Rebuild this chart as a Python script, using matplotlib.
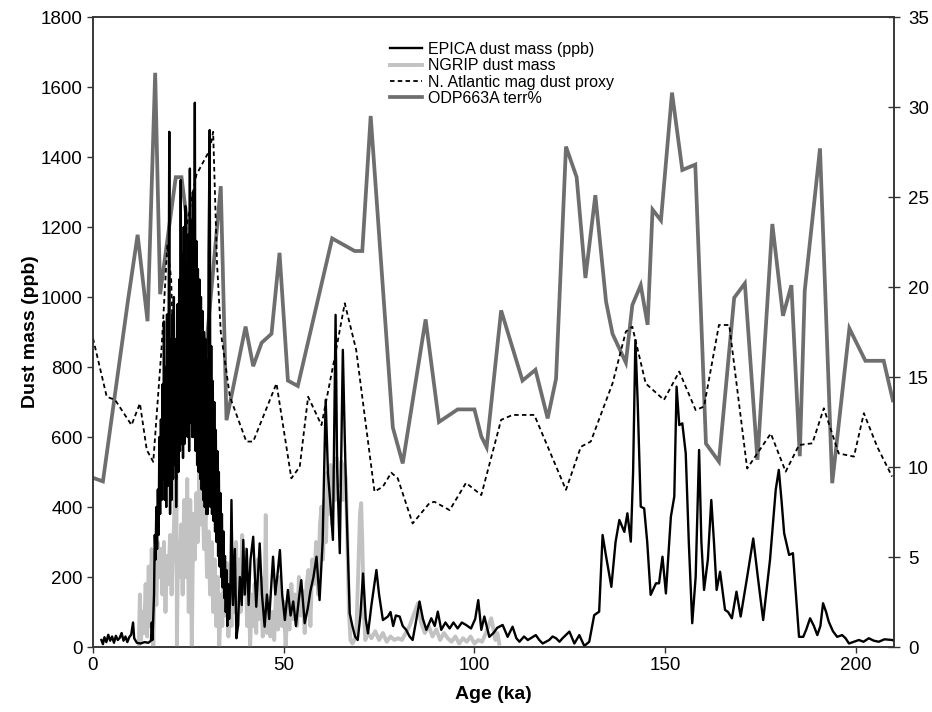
import matplotlib.pyplot as plt

plt.rcParams['font.family'] = ['Liberation Sans', 'DejaVu Sans']

# EPICA dust mass (ppb)
epica_age = [2.2, 2.6, 3.0, 3.5, 4.0, 4.5, 5.0, 5.5, 6.0, 6.5, 7.0, 7.5, 8.0, 8.5, 9.0, 9.5, 10.0, 10.5,
             10.8, 11.5, 12.5, 13.5, 14.5, 15.2, 15.4, 15.6,
             16.0, 16.2, 16.4, 16.6, 16.8, 17.0, 17.2, 17.4, 17.6, 17.8, 18.0, 18.2, 18.4, 18.6, 18.8,
             19.0, 19.2, 19.4, 19.6, 19.8, 20.0, 20.2, 20.4, 20.6, 20.8, 21.0, 21.2, 21.4, 21.6, 21.8,
             22.0, 22.2, 22.4, 22.6, 22.8, 23.0, 23.2, 23.4, 23.6, 23.8, 24.0, 24.2, 24.4, 24.6, 24.8,
             25.0, 25.2, 25.4, 25.6, 25.8, 26.0, 26.2, 26.4, 26.7, 26.9, 27.1, 27.3, 27.5, 27.7, 27.9,
             28.1, 28.3, 28.5, 28.7, 28.9, 29.1, 29.3, 29.5, 29.7, 29.9, 30.1, 30.3, 30.6, 30.8, 31.0,
             31.2, 31.4, 31.6, 31.8, 32.0, 32.2, 32.4, 32.6, 32.8, 33.0, 33.2, 33.4, 33.6, 33.8, 34.0,
             34.2, 34.4, 34.6, 34.8, 35.0, 35.2, 35.4, 35.7, 36.0, 36.3,
             36.7, 37.2, 37.6, 38.0, 38.5, 39.0, 39.4, 39.8, 40.3, 40.8, 41.3, 42.0, 42.8, 43.7, 44.3,
             45.0, 45.6, 46.2, 47.2, 47.8, 48.3, 49.0, 49.6, 50.3, 51.1, 51.8, 52.5, 53.2, 54.0, 54.6,
             55.5, 56.3, 57.0, 57.8, 58.6, 59.4, 60.2, 61.0, 61.6, 62.3, 62.9, 63.6, 64.0, 64.7, 65.5,
             66.0, 66.4, 67.3, 68.0, 68.7, 69.4, 70.1, 70.8, 71.5, 72.1, 73.0, 74.3, 75.0, 76.0, 77.3,
             78.0, 78.7, 79.4, 80.4, 81.2, 82.1, 83.0, 83.8, 84.8, 85.6, 86.5, 87.4, 88.7, 89.6, 90.4,
             91.3, 92.4, 93.5, 94.5, 95.6, 96.7, 97.8, 99.1, 100.2, 101.0, 101.8, 102.6, 103.9, 105.0,
             106.0, 107.4, 108.7, 110.0, 111.0, 111.8, 113.0, 114.0, 116.1, 117.0, 117.9, 119.6, 120.5,
             121.4, 122.3, 123.1, 124.9, 126.2, 127.5, 128.8, 130.1, 131.4, 132.7, 133.6, 134.5, 135.9,
             137.0, 138.0, 139.3, 140.1, 141.0, 141.6, 142.2, 142.8, 143.6, 144.5, 145.3, 146.2, 147.6,
             148.4, 149.3, 150.2, 151.5, 152.4, 153.0, 153.7, 154.5, 155.4, 156.2, 157.1, 158.0, 158.9,
             159.5, 160.2, 161.2, 162.1, 162.8, 163.5, 164.4, 165.7, 166.5, 167.5, 168.7, 169.8, 171.5,
             173.1, 174.3, 175.7, 177.5, 179.0, 179.8, 180.5, 181.2, 182.5, 183.5, 184.3, 185.1, 186.2,
             187.0, 188.0, 189.0, 189.9, 190.7, 191.4, 192.2, 192.9, 194.0, 195.1, 196.4, 197.3, 198.2,
             199.5, 200.8, 202.0, 203.4, 204.7, 206.0, 207.5, 209.5, 210.0]
epica_ppb = [20, 8, 28, 14, 35, 18, 30, 12, 32, 20, 26, 40, 18, 30, 14, 28, 35, 70,
             25, 12, 10, 14, 12, 18, 70, 20,
             150, 320, 250, 400, 280, 450, 320, 600, 380, 650, 420, 750, 480, 930, 420,
             800, 400, 950, 460, 820, 1472, 380, 880, 420, 950, 480, 1000, 520, 880, 400,
             760, 980, 500, 1050, 560, 1334, 580, 1120, 540, 1200, 580, 1260, 620, 1100, 600,
             1180, 560, 1367, 640, 1220, 600, 1300, 600, 1555, 560, 1160, 520, 1080, 500, 1050,
             480, 1000, 450, 960, 420, 900, 400, 880, 380, 820, 380, 1125, 1477, 400, 860,
             380, 760, 360, 700, 330, 620, 300, 560, 260, 500, 230, 440, 200, 380, 170,
             330, 140, 260, 100, 220, 60, 180, 80, 150, 420,
             120, 280, 25, 60, 200, 120, 306, 150, 280, 120, 250, 315, 115, 296, 150,
             58, 150, 80, 258, 150, 200, 277, 150, 77, 163, 90, 130, 60, 140, 191,
             68, 110, 160, 200, 258, 134, 300, 706, 496, 400, 306, 949, 515, 268, 849,
             600, 420, 96, 60, 30, 20, 90, 210, 80, 39, 120, 220, 150, 77, 87,
             100, 60, 90, 87, 60, 49, 30, 20, 80, 130, 80, 49, 82, 60, 101,
             49, 70, 53, 70, 53, 70, 63, 53, 80, 134, 49, 87, 29, 40,
             55, 63, 29, 58, 25, 15, 30, 20, 34, 20, 10, 20, 30,
             25, 15, 25, 44, 10, 34, 3, 15, 91, 101, 320, 260, 172,
             300, 363, 329, 382, 301, 500, 877, 700, 401, 396, 300, 149, 182,
             182, 258, 153, 372, 430, 744, 634, 639, 553, 300, 68, 200, 563,
             300, 163, 250, 420, 300, 163, 215, 106, 100, 82, 158, 87, 200,
             310, 200, 77, 250, 450, 506, 420, 325, 263, 268, 150, 29, 29,
             50, 82, 60, 34, 60, 125, 100, 72, 45, 29, 34, 25, 10,
             15, 20, 15, 25, 18, 15, 22, 20, 18]

# NGRIP dust mass (ppb)
ngrip_age = [12.0, 12.3, 12.6, 13.0, 13.4, 13.8, 14.2, 14.6, 15.0, 15.4, 15.8, 16.2, 16.6, 17.0, 17.4,
             17.8, 18.2, 18.6, 19.0, 19.4, 19.8, 20.2, 20.6, 21.0, 21.4, 21.8, 22.0, 22.3, 22.7, 23.1,
             23.5, 23.9, 24.3, 24.7, 25.1, 25.5, 25.9, 26.3, 26.7, 27.1, 27.5, 27.9, 28.3, 28.7, 29.1,
             29.5, 29.9, 30.3, 30.7, 31.1, 31.5, 31.9, 32.3, 32.7, 33.1, 33.5, 33.9, 34.3, 34.7, 35.1,
             35.5, 35.9, 36.3, 36.7, 37.1, 37.5, 37.9, 38.3, 38.7, 39.1, 39.5, 40.0, 40.4, 40.8, 41.2,
             41.6, 42.0, 42.4, 42.8, 43.2, 43.6, 44.0, 44.5, 45.0, 45.3, 45.6, 46.0, 46.5, 47.0, 47.5,
             48.0, 48.5, 49.0, 49.5, 50.0, 50.5, 51.0, 51.5, 52.0, 52.5, 53.0, 53.5, 54.0, 54.5, 55.0,
             55.5, 56.0, 56.5, 57.0, 57.5, 58.0, 58.5, 59.0, 59.5, 59.9, 60.3, 60.7, 61.1, 61.5, 61.9,
             62.3, 62.7, 63.1, 63.5, 63.9, 64.3, 64.7, 65.1, 65.5, 65.9, 66.3, 66.7, 67.1, 67.5, 68.0,
             68.5, 69.0, 69.5, 70.0, 70.3, 70.6, 71.0, 71.4, 72.0, 73.0, 74.0, 75.0, 76.0, 77.0, 78.0,
             79.0, 80.0, 81.0, 82.0, 83.0, 84.0, 85.2, 86.0, 87.0, 88.0, 89.0, 90.0, 91.0, 92.0, 93.0,
             94.0, 95.0, 96.0, 97.0, 98.0, 99.0, 100.0, 101.0, 102.0, 103.0, 104.4, 105.0, 105.5, 106.0,
             106.5]
ngrip_ppb = [0, 150, 20, 100, 40, 180, 30, 230, 60, 280, 0, 250, 120, 300, 200,
             280, 150, 300, 100, 260, 180, 320, 150, 280, 400, 750, 0, 300, 200, 350,
             150, 420, 200, 480, 100, 420, 0, 380, 250, 440, 300, 500, 350, 450, 280,
             380, 200, 330, 150, 300, 100, 250, 60, 200, 0, 150, 60, 200, 90, 240,
             30, 180, 60, 280, 100, 300, 60, 250, 100, 320, 150, 280, 60, 200, 0,
             150, 60, 180, 40, 250, 80, 200, 30, 120, 377, 40, 140, 30, 100, 20,
             160, 50, 200, 60, 130, 0, 120, 50, 180, 80, 150, 60, 200, 90, 160,
             40, 180, 220, 60, 250, 180, 300, 150, 350, 401, 250, 420, 300, 500, 380,
             520, 350, 480, 420, 540, 460, 480, 530, 420, 520, 480, 300, 100, 20, 10,
             20, 30, 200, 380, 411, 300, 100, 20, 40, 25, 45, 20, 40, 15, 30,
             20, 25, 20, 40, 60, 90, 125, 70, 40, 60, 30, 50, 20, 40, 25,
             15, 30, 10, 25, 15, 30, 10, 20, 15, 40, 82, 50, 20, 40,
             10]

# N. Atlantic magnetic dust proxy (plotted on the ppb scale)
natl_age = [0.0, 3.6, 5.8, 10.1, 12.3, 14.1, 15.8, 18.0, 19.5, 20.5, 21.9, 23.5, 24.5, 27.1, 30.6,
            31.5, 32.5, 33.5, 35.9, 40.2, 42.0, 48.1, 52.0, 54.2, 56.4, 59.9, 63.4, 66.0, 69.0,
            73.8, 76.0, 78.2, 79.9, 83.8, 88.2, 89.5, 93.5, 97.8, 101.8, 107.0, 110.0, 115.7,
            124.0, 127.9, 130.5, 136.2, 139.7, 141.4, 144.9, 149.7, 153.7, 158.0, 160.2, 164.1,
            166.8, 171.5, 177.7, 181.6, 185.1, 188.6, 191.6, 195.5, 199.5, 202.1, 205.6, 209.5]
natl_ppb = [882, 715, 706, 634, 696, 563, 529, 858, 1150, 1050, 477, 1000, 1200, 1349, 1420,
            1472, 1100, 900, 715, 587, 587, 753, 482, 515, 715, 634, 829, 982, 849,
            444, 458, 498, 482, 353, 411, 415, 391, 469, 434, 649, 663, 663,
            449, 572, 587, 753, 901, 915, 753, 706, 787, 677, 687, 920,
            920, 510, 610, 501, 577, 582, 682, 553, 544, 668, 572, 487]

# ODP663A terrigenous fraction (%)
odp_age = [0.0, 2.6, 9.2, 11.7, 14.3, 16.3, 17.6, 21.7, 23.2, 29.3, 33.5, 35.0, 40.0, 42.0, 44.2,
           46.8, 48.9, 51.1, 53.7, 62.7, 68.6, 70.6, 72.8, 78.6, 81.2, 87.2, 90.7, 95.6, 100.0,
           101.8, 103.2, 107.0, 112.6, 116.0, 119.2, 121.4, 124.0, 126.8, 129.1, 131.7, 134.5,
           136.2, 139.7, 141.4, 143.6, 145.4, 146.7, 148.9, 151.8, 154.5, 157.9, 160.7, 164.1,
           168.1, 170.9, 174.2, 178.1, 180.9, 183.1, 185.3, 186.6, 190.6, 193.8, 198.3, 202.5,
           207.3, 209.7]
odp_terr = [9.4, 9.2, 19.3, 22.9, 18.1, 31.9, 19.6, 26.1, 26.1, 15.8, 25.6, 12.6, 17.8, 15.6, 16.9,
            17.4, 21.9, 14.8, 14.5, 22.7, 22.0, 22.0, 29.5, 12.2, 10.2, 18.2, 12.5, 13.2, 13.2,
            11.7, 11.1, 18.7, 14.8, 15.4, 12.7, 14.9, 27.8, 26.1, 20.5, 25.1, 19.2,
            17.4, 15.8, 19.0, 20.1, 17.9, 24.3, 23.7, 30.8, 26.5, 26.8, 11.3, 10.3,
            19.4, 20.2, 10.4, 23.5, 18.4, 20.1, 10.6, 19.8, 27.7, 9.1, 17.7, 15.9,
            15.9, 13.7]

fig = plt.figure(figsize=(9.32, 7.12), dpi=100)
ax = fig.add_axes([93 / 932, 65 / 712, 801 / 932, 630 / 712])
ax2 = ax.twinx()
# terr% line sits underneath the dust records
ax.set_zorder(ax2.get_zorder() + 1)
ax.patch.set_visible(False)

l_odp, = ax2.plot(odp_age, odp_terr, color='#6e6e6e', lw=2.7, solid_joinstyle='miter')
l_ngrip, = ax.plot(ngrip_age, ngrip_ppb, color='#c2c2c2', lw=2.8)
l_epica, = ax.plot(epica_age, epica_ppb, color='black', lw=1.7)
l_natl, = ax.plot(natl_age, natl_ppb, color='black', lw=1.3, linestyle=(0, (2.5, 1.8)))

ax.set_xlim(0, 210)
ax.set_ylim(0, 1800)
ax2.set_ylim(0, 35)
ax.set_xticks(range(0, 201, 50))
ax.set_yticks(range(0, 1801, 200))
ax2.set_yticks(range(0, 36, 5))

for a in (ax, ax2):
    for s in a.spines.values():
        s.set_linewidth(1.1)
        s.set_color('#333333')
ax.tick_params(axis='both', direction='out', length=4, width=1, labelsize=13.5, color='#333333')
ax2.tick_params(axis='y', direction='inout', length=8, width=1, labelsize=13.5, pad=6, color='#333333')

ax.set_xlabel('Age (ka)', fontsize=14, fontweight='bold', labelpad=8)
ax.set_ylabel('Dust mass (ppb)', fontsize=14, fontweight='bold', labelpad=1)

ax.legend([l_epica, l_ngrip, l_natl, l_odp],
          ['EPICA dust mass (ppb)', 'NGRIP dust mass', 'N. Atlantic mag dust proxy', 'ODP663A terr%'],
          loc='upper left', bbox_to_anchor=(390 / 932, 1 - 42 / 712), bbox_transform=fig.transFigure,
          frameon=False, fontsize=11.5, handlelength=2.0, handletextpad=0.35, labelspacing=0.08,
          borderpad=0, borderaxespad=0)

fig.savefig('out.png', dpi=100)
